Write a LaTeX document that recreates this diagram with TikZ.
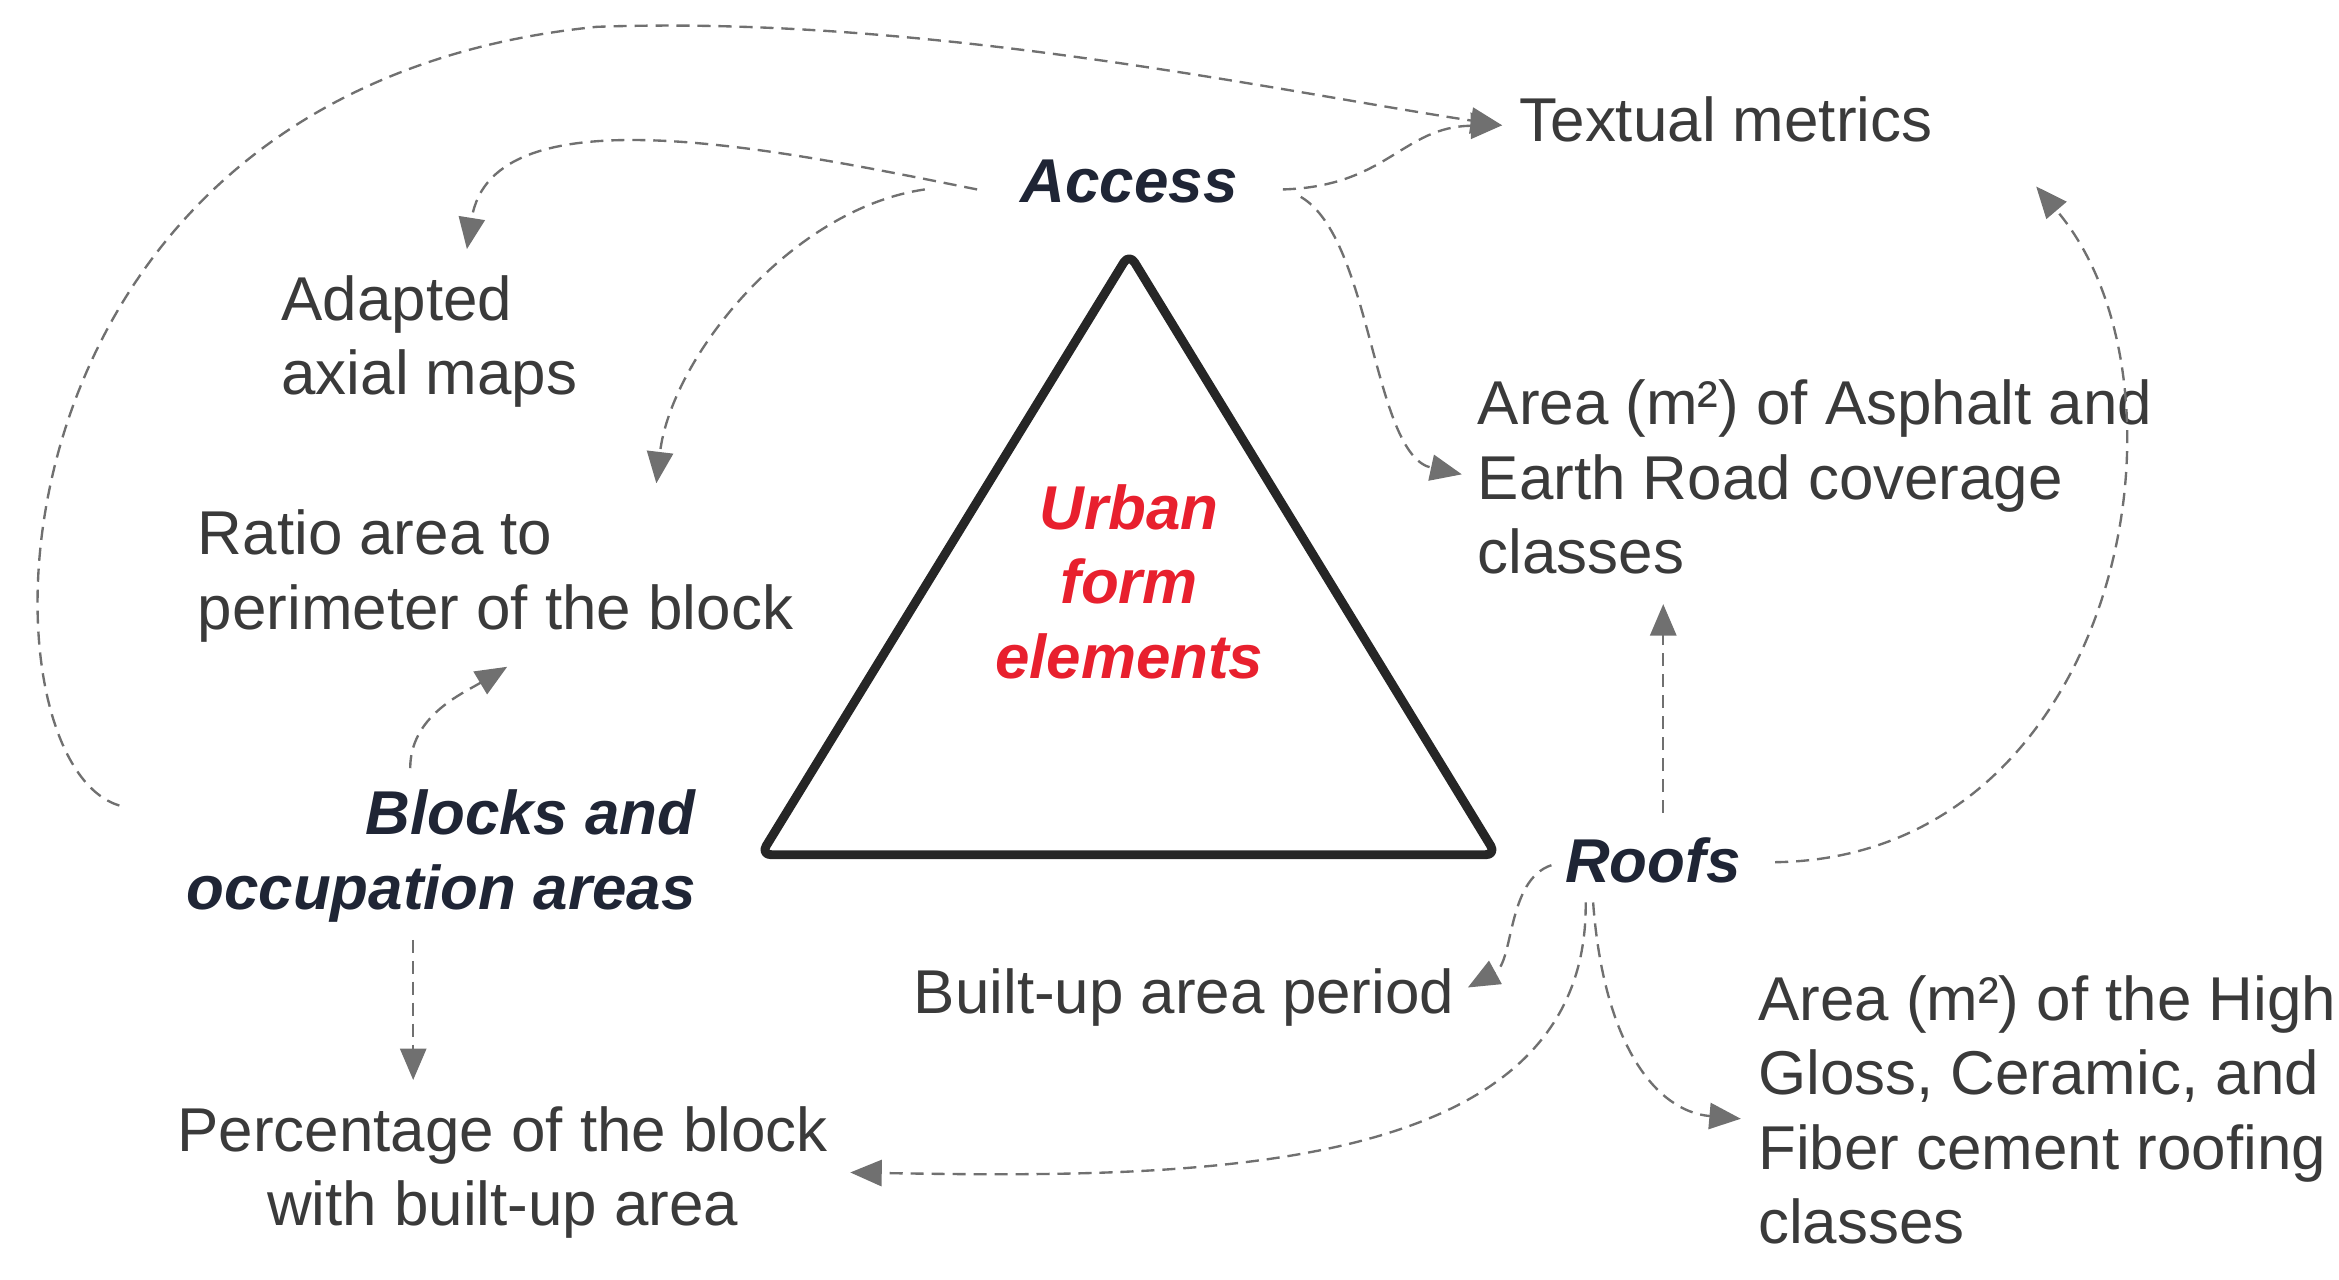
\documentclass[tikz,border=0pt]{standalone}
\usepackage{fontspec}
\setmainfont{Liberation Sans}
\usetikzlibrary{arrows.meta}
\definecolor{txt}{HTML}{3A3A3A}
\definecolor{navy}{HTML}{1F2535}
\definecolor{urb}{HTML}{E8202E}
\definecolor{arr}{HTML}{707070}
\begin{document}
\begin{tikzpicture}[x=0.01cm,y=-0.01cm,
  lbl/.style={font=\fontsize{11.8}{14.2}\selectfont,text=txt,inner sep=0pt,align=left},
  hd/.style={font=\fontsize{11.8}{14.2}\selectfont\bfseries\itshape,text=navy,inner sep=0pt},
  con/.style={draw=arr,line width=0.45pt,dash pattern=on 2.5pt off 1.5pt,-{Triangle[length=6pt,width=5pt,fill=arr]}}]
\useasboundingbox (0,0) rectangle (1568,858);
\coordinate (t1) at (757,170); \coordinate (t2) at (510,573); \coordinate (t3) at (1003,573);
\draw[line width=1.7pt,line join=round,rounded corners=2pt,color=black!85] (t1)--(t2)--(t3)--cycle;
\node[font=\fontsize{11.8}{14.2}\selectfont\bfseries\itshape,text=urb,align=center,inner sep=0pt] (urban) at (757,390) {Urban\\form\\elements};
\node[hd] (access) at (757,122) {Access};
\node[hd,align=right,anchor=east] (blocks) at (467,574) {Blocks and\\occupation areas};
\node[hd] (roofs) at (1108,577) {Roofs};
\node[lbl,anchor=west] (tex) at (1018,80) {Textual metrics};
\node[lbl,anchor=west] (axial) at (188,229) {Adapted\\axial maps};
\node[lbl,anchor=west] (ratio) at (132,386) {Ratio area to\\perimeter of the block};
\node[lbl,anchor=west] (asph) at (990,320) {Area (m²) of Asphalt and\\Earth Road coverage\\classes};
\node[lbl,anchor=west] (built) at (612,669) {Built-up area period};
\node[lbl,align=center] (perc) at (337,786) {Percentage of the block\\with built-up area};
\node[lbl,anchor=west] (gloss) at (1178,744) {Area (m²) of the High\\Gloss, Ceramic, and\\Fiber cement roofing\\classes};
\coordinate (a1) at (655,127); \coordinate (a2) at (620,127);
\coordinate (a3) at (860,127); \coordinate (a4) at (872,132);
\coordinate (e1) at (313,167); \coordinate (e2) at (440,324);
\coordinate (e3) at (1007,84); \coordinate (e4) at (980,318);
\coordinate (b0) at (80,540); \coordinate (btop) at (400,18);
\coordinate (b1) at (275,515); \coordinate (e6) at (340,447);
\coordinate (b2) at (277,630); \coordinate (e7) at (277,724);
\coordinate (r1) at (1115,545); \coordinate (e8) at (1115,405);
\coordinate (r2) at (1190,578); \coordinate (e9) at (1365,125);
\coordinate (r3) at (1040,580); \coordinate (e10) at (984,662);
\coordinate (r4) at (1063,605); \coordinate (e11) at (570,786);
\coordinate (r5) at (1068,605); \coordinate (e12) at (1167,750);
\draw[con] (a1) .. controls (520,100) and (330,60) .. (e1);
\draw[con] (a2) .. controls (530,140) and (450,240) .. (e2);
\draw[con] (a3) .. controls (930,125) and (940,85) .. (e3);
\draw[con] (a4) .. controls (920,160) and (920,305) .. (e4);
\draw[con] (b0) .. controls (-20,510) and (-20,60) .. (btop) .. controls (620,10) and (850,60) .. (e3);
\draw[con] (b1) .. controls (275,480) and (310,465) .. (e6);
\draw[con] (b2) -- (e7);
\draw[con] (r1) -- (e8);
\draw[con] (r2) .. controls (1420,575) and (1480,260) .. (e9);
\draw[con] (r3) .. controls (1010,590) and (1015,645) .. (e10);
\draw[con] (r4) .. controls (1065,790) and (800,790) .. (e11);
\draw[con] (r5) .. controls (1075,700) and (1110,745) .. (e12);
\end{tikzpicture}
\end{document}
